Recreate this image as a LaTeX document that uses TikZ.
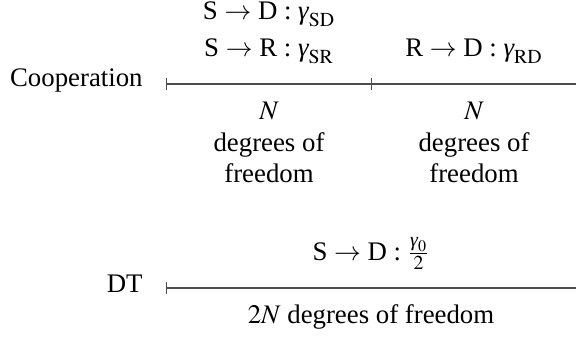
\documentclass[tikz,border=0pt]{standalone}
\usepackage{amsmath}
\usepackage{mathptmx}
\usepackage{fontspec}
\setmainfont{Liberation Serif}
\usetikzlibrary{positioning,arrows.meta}
\newcommand{\gm}{\textit{γ}}
\tikzset{
  scheme/.style={anchor=east, inner sep=0pt},
  rate/.style={anchor=south, inner sep=0pt, align=center, font=\fontsize{13.4}{18.5}\selectfont},
  dof/.style={anchor=north, inner sep=0pt, align=center, font=\fontsize{13.4}{15.8}\selectfont},
  axis/.style={draw=black!70, line width=0.6pt},
  endtick/.tip={Bar[width=6pt, line width=0.6pt]}
}

\begin{document}
\begin{tikzpicture}[x=0.5pt, y=-0.5pt, font=\fontsize{13.4}{16}\selectfont]
  \useasboundingbox (0,0) rectangle (576,337);

  % cooperation: two hops
  \coordinate (coopstart) at (166,84);
  \coordinate (coopmid) at (372,84);
  \coordinate (coopend) at (576,84);
  \node[scheme] (coop) at (143,80) {Cooperation};

  \node[rate] (firsthop) at (269,64) {S $\rightarrow$ D : $\gm_{\mathrm{SD}}$\\ S $\rightarrow$ R : $\gm_{\mathrm{SR}}$};
  \node[rate] (secondhop) at (474,64) {R $\rightarrow$ D : $\gm_{\mathrm{RD}}$};
  \node[dof] (firstdof) at (269,102) {$N$\\ degrees of\\ freedom};
  \node[dof] (seconddof) at (474,102) {$N$\\ degrees of\\ freedom};

  \draw[axis, endtick-endtick] (coopstart) -- (coopmid);
  \draw[axis] (coopmid) -- (coopend);

  % direct transmission
  \coordinate (dtstart) at (166,288);
  \coordinate (dtend) at (576,288);
  \node[scheme] (dt) at (143,284) {DT};

  \node[rate] (directlink) at (371,270) {S $\rightarrow$ D : $\frac{\gm_0}{2}$};
  \node[dof] (directdof) at (371,304) {$2N$ degrees of freedom};

  \draw[axis, endtick-] (dtstart) -- (dtend);
\end{tikzpicture}
\end{document}
